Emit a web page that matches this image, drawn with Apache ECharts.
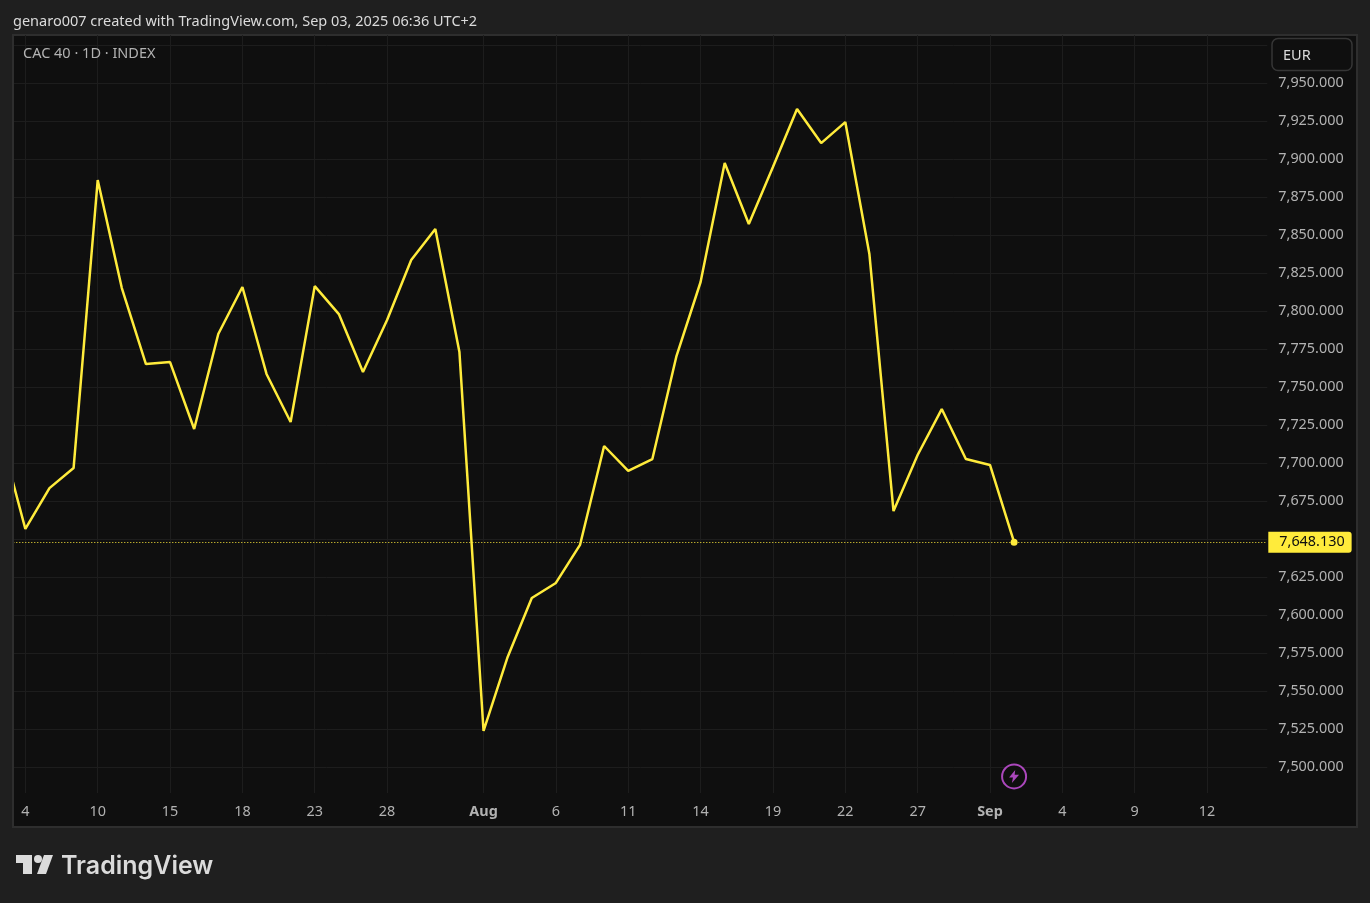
<!DOCTYPE html>
<html lang="en">
<head>
<meta charset="UTF-8">
<title>CAC 40 - 1D - INDEX</title>
<script src="https://cdn.jsdelivr.net/npm/echarts@6/dist/echarts.min.js"></script>
<style>
  html, body { margin: 0; padding: 0; background: #1f1f1f; }
  #main { width: 1370px; height: 903px; }
</style>
</head>
<body>
<div id="main"></div>
<script type="text/javascript">
// close values per session, first point sits just outside the left edge
var closes = [
  7716.6, 7656.8, 7683.7, 7696.9, 7886.4, 7815.3, 7765.3, 7766.6, 7722.6, 7785.1,
  7816.0, 7758.8, 7727.2, 7816.6, 7798.2, 7760.1, 7794.3, 7833.8, 7854.1, 7773.2,
  7523.9, 7572.6, 7611.4, 7621.3, 7646.3, 7711.4, 7695.0, 7702.8, 7770.6, 7819.3,
  7897.6, 7857.4, 7894.9, 7933.1, 7910.7, 7924.5, 7837.7, 7668.6, 7705.5, 7735.7,
  7702.8, 7698.9, 7648.13
];
var lastClose = 7648.13;
var flashValue = 7494;

var xTickIndex = [1, 4, 7, 10, 13, 16, 20, 23, 26, 29, 32, 35, 38, 41, 44, 47, 50];
var xTickLabels = ['4', '10', '15', '18', '23', '28', 'Aug', '6', '11', '14', '19', '22', '27', 'Sep', '4', '9', '12'];

var yTicks = [7500, 7525, 7550, 7575, 7600, 7625, 7650, 7675, 7700, 7725, 7750, 7775,
  7800, 7825, 7850, 7875, 7900, 7925, 7950];
var yGridLines = yTicks.concat([7975]);

var FONT = '"Noto Sans", sans-serif';
var YELLOW = '#ffeb3b';
var GRID = '#1d1d1d';
var PAGE = '#1f1f1f';

var myChart = echarts.init(document.getElementById('main'));

function money(v) {
  return v.toLocaleString('en-US', {minimumFractionDigits: 3, maximumFractionDigits: 3});
}

var option = {
  backgroundColor: PAGE,
  animation: false,
  textStyle: {fontFamily: FONT},
  grid: {left: 13.3, right: 102.7, top: 35, bottom: 110},
  xAxis: {
    type: 'value',
    min: 0.5,
    max: 52.5,
    axisLine: {show: false},
    axisTick: {show: false, customValues: xTickIndex},
    splitLine: {show: true, lineStyle: {color: GRID, width: 1}},
    axisLabel: {
      customValues: xTickIndex,
      color: '#b2b2b2',
      fontSize: 14.4,
      fontFamily: FONT,
      margin: 12,
      formatter: function (v) {
        var s = xTickLabels[xTickIndex.indexOf(v)];
        return (s === 'Aug' || s === 'Sep') ? '{b|' + s + '}' : s;
      },
      rich: {b: {fontWeight: 'bold', color: '#b2b2b2', fontSize: 14.4, fontFamily: FONT}}
    }
  },
  yAxis: {
    type: 'value',
    position: 'right',
    min: 7483.1,
    max: 7981.8,
    axisLine: {show: false},
    axisTick: {show: false, customValues: yGridLines},
    splitLine: {show: true, lineStyle: {color: GRID, width: 1}},
    axisLabel: {
      customValues: yTicks,
      color: '#b2b2b2',
      fontSize: 14.4,
      fontFamily: FONT,
      margin: 11,
      formatter: function (v) { return money(v); }
    }
  },
  series: [{
    type: 'line',
    data: closes.map(function (v, i) { return [i, v]; }),
    showSymbol: false,
    lineStyle: {color: YELLOW, width: 2.5},
    itemStyle: {color: YELLOW},
    z: 5,
    markLine: {
      silent: true,
      symbol: 'none',
      animation: false,
      lineStyle: {color: YELLOW, type: [1, 2], width: 1, opacity: 1},
      label: {
        position: 'end',
        distance: 1,
        formatter: function () { return money(lastClose); },
        color: '#0f0f0f',
        backgroundColor: YELLOW,
        fontSize: 14.4,
        fontFamily: FONT,
        padding: [2, 7, 1, 11],
        lineHeight: 18,
        borderRadius: [0, 3, 3, 0]
      },
      data: [{yAxis: lastClose}]
    },
    markPoint: {
      silent: true,
      animation: false,
      label: {show: false},
      data: [
        {coord: [closes.length - 1, lastClose], symbol: 'circle', symbolSize: 7, itemStyle: {color: YELLOW}},
        {coord: [closes.length - 1, flashValue], symbol: 'circle', symbolSize: 24,
          itemStyle: {color: '#0f0f0f', borderColor: '#ab47bc', borderWidth: 2}},
        {coord: [closes.length - 1, flashValue], symbol: 'path://M13 0 L2 14 H9 L7 24 L20 9 H12 Z', symbolSize: [10, 13],
          itemStyle: {color: '#ab47bc'}}
      ]
    }
  }],
  graphic: [
    {type: 'rect', z: -10, silent: true, shape: {x: 13, y: 35, width: 1344, height: 792},
      style: {fill: '#0f0f0f', stroke: '#2e2e2e', lineWidth: 2}},
    // the line's clip runs a little past the panel, keep the left margin clean
    {type: 'rect', z: 20, silent: true, shape: {x: 0, y: 36, width: 12, height: 790}, style: {fill: PAGE}},
    {type: 'rect', z: 20, silent: true, shape: {x: 12, y: 36, width: 2, height: 790}, style: {fill: '#2e2e2e'}},
    {type: 'text', left: 13, top: 14, silent: true,
      style: {text: 'genaro007 created with TradingView.com, Sep 03, 2025 06:36 UTC+2', fill: '#dbdbdb', font: '14.5px ' + FONT}},
    {type: 'text', z: 12, left: 23, top: 46, silent: true,
      style: {text: 'CAC 40 · 1D · INDEX', fill: '#b2b2b2', font: '14.5px ' + FONT}},
    {type: 'rect', z: 10, silent: true, shape: {x: 1272, y: 38.5, width: 80, height: 32, r: 6},
      style: {fill: '#0f0f0f', stroke: '#363636', lineWidth: 1.5}},
    {type: 'text', z: 11, left: 1283, top: 48, silent: true,
      style: {text: 'EUR', fill: '#dbdbdb', font: '14.5px ' + FONT}},
    // TradingView mark
    {type: 'polygon', silent: true, shape: {points: [[16, 855], [32, 855], [32, 874], [23, 874], [23, 863], [16, 863]]}, style: {fill: '#dbdbdb'}},
    {type: 'circle', silent: true, shape: {cx: 38, cy: 859, r: 4}, style: {fill: '#dbdbdb'}},
    {type: 'polygon', silent: true, shape: {points: [[44, 855], [53, 855], [46, 874], [37, 874]]}, style: {fill: '#dbdbdb'}},
    {type: 'text', left: 61, top: 854, silent: true,
      style: {text: 'TradingView', fill: '#dbdbdb', font: '600 25px Inter, sans-serif'}}
  ]
};

myChart.setOption(option);
</script>
</body>
</html>
